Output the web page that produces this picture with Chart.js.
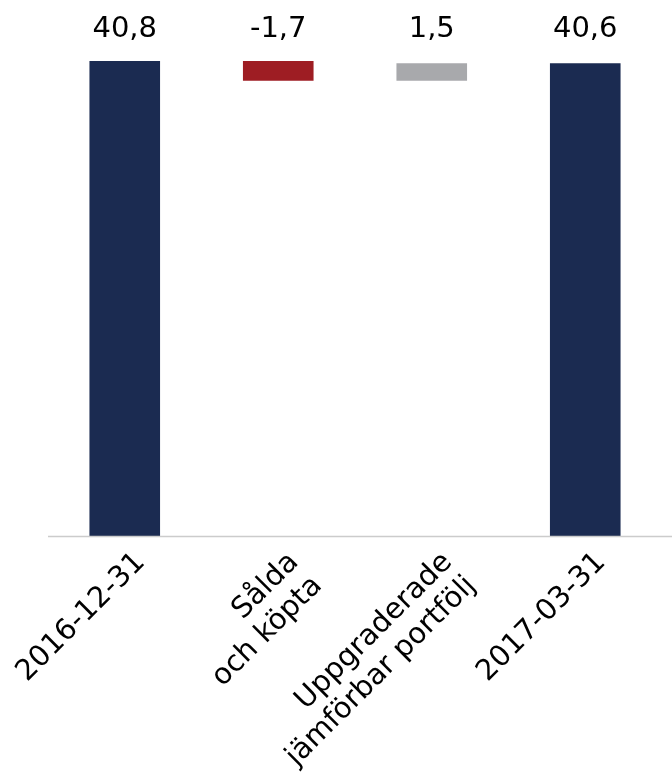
<!DOCTYPE html>
<html>
<head>
<meta charset="utf-8">
<script src="https://cdn.jsdelivr.net/npm/chart.js@4/dist/chart.umd.min.js"></script>
<style>
    html, body { margin: 0; padding: 0; background: #ffffff; }
    #wrap { width: 672px; height: 778px; position: relative; }
</style>
</head>
<body>
<div id="wrap"><canvas id="bridgeChart"></canvas></div>
<script>
// Categories (multi-line labels as arrays)
const categories = [
    ['2016-12-31'],
    ['Sålda', 'och köpta'],
    ['Uppgraderade', 'jämförbar portfölj'],
    ['2017-03-31']
];
// Values per step; totals start from zero, changes float on the running total
const values = [40.8, -1.7, 1.5, 40.6];
const isTotal = [true, false, false, true];
const barColors = ['#1b2b51', '#9e1d23', '#a8a9ac', '#1b2b51'];

// Build floating ranges for the bridge
const ranges = [];
let running = 0;
values.forEach((v, i) => {
    if (isTotal[i]) {
        ranges.push([0, v]);
        running = v;
    } else {
        ranges.push([running, +(running + v).toFixed(2)]);
        running = +(running + v).toFixed(2);
    }
});

const fontFamily = '"DejaVu Sans", Verdana, sans-serif';

// Value labels in one row above the plot
const valueLabels = {
    id: 'valueLabels',
    afterDatasetsDraw(chart) {
        const ctx = chart.ctx;
        const meta = chart.getDatasetMeta(0);
        ctx.save();
        ctx.font = '29px ' + fontFamily;
        ctx.fillStyle = '#000000';
        ctx.textAlign = 'center';
        ctx.textBaseline = 'middle';
        meta.data.forEach((bar, i) => {
            const txt = values[i].toFixed(1).replace('.', ',');
            ctx.fillText(txt, bar.x, chart.chartArea.top - 18);
        });
        ctx.restore();
    }
};

// Baseline running out to the right edge
const baseLine = {
    id: 'baseLine',
    afterDraw(chart) {
        const ctx = chart.ctx;
        const y = chart.scales.y.getPixelForValue(0);
        ctx.save();
        ctx.strokeStyle = '#cccccc';
        ctx.lineWidth = 1.5;
        ctx.beginPath();
        ctx.moveTo(chart.chartArea.left, y + 0.5);
        ctx.lineTo(chart.width, y + 0.5);
        ctx.stroke();
        ctx.restore();
    }
};

const ctx = document.getElementById('bridgeChart').getContext('2d');
new Chart(ctx, {
    type: 'bar',
    data: {
        labels: categories,
        datasets: [{
            data: ranges,
            backgroundColor: barColors,
            borderWidth: 0,
            barPercentage: 0.46,
            categoryPercentage: 1
        }]
    },
    options: {
        responsive: true,
        maintainAspectRatio: false,
        animation: false,
        layout: {
            padding: { left: 48, right: 10, top: 47, bottom: 0 }
        },
        plugins: {
            legend: { display: false },
            tooltip: { enabled: false }
        },
        scales: {
            x: {
                grid: { display: false, drawTicks: false },
                border: { display: false },
                ticks: {
                    color: '#000000',
                    font: { family: fontFamily, size: 29, lineHeight: 1.15 },
                    minRotation: 45,
                    maxRotation: 45,
                    padding: 10,
                    labelOffset: 16,
                    autoSkip: false
                },
                afterFit(scale) {
                    // fixed axis band; rotated labels may run past the plot edges
                    scale.height = 242;
                    scale.paddingLeft = 0;
                    scale.paddingRight = 0;
                }
            },
            y: {
                display: false,
                min: 0,
                max: 42
            }
        }
    },
    plugins: [valueLabels, baseLine]
});
</script>
</body>
</html>
